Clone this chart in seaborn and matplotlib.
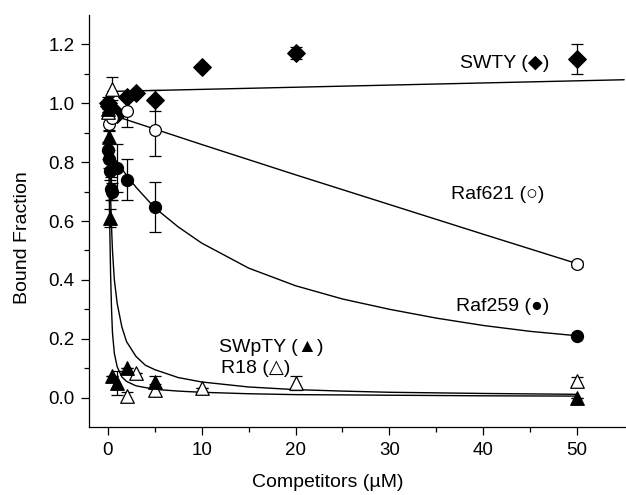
import matplotlib
matplotlib.use("Agg")
import matplotlib.pyplot as plt
import seaborn as sns
from matplotlib.ticker import FixedLocator, FormatStrFormatter

# ---------------- data ----------------
swty_x = [0, 0.1, 0.5, 1, 2, 3, 5, 10, 20, 50]
swty_y = [1.0, 0.99, 0.98, 0.965, 1.02, 1.035, 1.01, 1.125, 1.17, 1.15]
swty_err = [0.01, 0.0, 0.0, 0.0, 0.0, 0.0, 0.035, 0.0, 0.02, 0.05]

raf621_x = [0, 0.1, 0.5, 2, 5, 50]
raf621_y = [1.0, 0.93, 0.95, 0.975, 0.91, 0.455]
raf621_err = [0.02, 0.02, 0.0, 0.055, 0.09, 0.01]

raf259_x = [0, 0.05, 0.1, 0.2, 0.3, 0.5, 1, 2, 5, 50]
raf259_y = [1.0, 0.84, 0.81, 0.77, 0.71, 0.70, 0.78, 0.74, 0.647, 0.21]
raf259_err = [0.0, 0.03, 0.03, 0.03, 0.04, 0.03, 0.08, 0.07, 0.085, 0.0]

swpty_x = [0, 0.1, 0.2, 0.5, 1, 2, 5, 50]
swpty_y = [0.98, 0.885, 0.61, 0.075, 0.05, 0.10, 0.054, 0.0]
swpty_err = [0.02, 0.02, 0.03, 0.0, 0.04, 0.0, 0.02, 0.0]

r18_x = [0, 0.5, 2, 3, 5, 10, 20, 50]
r18_y = [0.97, 1.05, 0.005, 0.085, 0.027, 0.033, 0.05, 0.055]
r18_err = [0.0, 0.04, 0.015, 0.0, 0.02, 0.0, 0.025, 0.015]

# fitted curves
swty_fit_x = [0, 55]
swty_fit_y = [1.04, 1.08]
raf621_fit_x = [0, 10, 20, 30, 40, 50]
raf621_fit_y = [0.965, 0.86, 0.757, 0.656, 0.555, 0.455]
raf259_fit_x = [0, 0.5, 1, 2, 3, 5, 7.5, 10, 15, 20, 25, 30, 35, 40, 45, 50]
raf259_fit_y = [0.84, 0.82, 0.80, 0.755, 0.715, 0.645, 0.58, 0.525, 0.44, 0.38,
                0.335, 0.30, 0.27, 0.245, 0.225, 0.21]
swpty_fit_x = [0, 0.05, 0.1, 0.15, 0.2, 0.3, 0.4, 0.5, 0.7, 1, 1.5, 2, 3, 5,
               7.5, 10, 15, 20, 30, 40, 50]
swpty_fit_y = [1.0, 0.92, 0.80, 0.70, 0.60, 0.42, 0.30, 0.22, 0.15, 0.105, 0.07,
               0.055, 0.04, 0.028, 0.022, 0.018, 0.013, 0.01, 0.008, 0.006, 0.005]
r18_fit_x = [0, 0.1, 0.2, 0.3, 0.4, 0.5, 0.7, 1, 1.5, 2, 3, 4, 5, 7.5, 10, 15,
             20, 25, 30, 40, 50]
r18_fit_y = [1.0, 0.90, 0.80, 0.68, 0.58, 0.50, 0.40, 0.32, 0.24, 0.19, 0.14,
             0.11, 0.095, 0.068, 0.053, 0.036, 0.027, 0.022, 0.018, 0.014, 0.011]

x_ticks = [0, 10, 20, 30, 40, 50]
x_minor = [5, 15, 25, 35, 45]
y_ticks = [0.0, 0.2, 0.4, 0.6, 0.8, 1.0, 1.2]
y_minor = [0.1, 0.3, 0.5, 0.7, 0.9, 1.1]

# ---------------- style ----------------
sns.set_theme(style="ticks")
plt.rcParams["font.family"] = ["Liberation Sans", "DejaVu Sans"]
plt.rcParams["axes.linewidth"] = 0.9
for k in ["xtick.major.width", "ytick.major.width",
          "xtick.minor.width", "ytick.minor.width"]:
    plt.rcParams[k] = 0.9
plt.rcParams["xtick.major.size"] = 5.5
plt.rcParams["ytick.major.size"] = 5.5
plt.rcParams["xtick.minor.size"] = 3.5
plt.rcParams["ytick.minor.size"] = 3.5
for k in ["xtick.color", "ytick.color", "axes.edgecolor", "text.color",
          "axes.labelcolor", "xtick.labelcolor", "ytick.labelcolor"]:
    plt.rcParams[k] = "black"

fig = plt.figure(figsize=(6.26, 4.95), dpi=100)
ax = fig.add_axes([89 / 626, 1 - 427 / 495, 1 - 89 / 626, (427 - 15) / 495])

# curves
for fx, fy in [(swty_fit_x, swty_fit_y), (raf621_fit_x, raf621_fit_y),
               (raf259_fit_x, raf259_fit_y), (swpty_fit_x, swpty_fit_y),
               (r18_fit_x, r18_fit_y)]:
    sns.lineplot(x=fx, y=fy, ax=ax, color="black", linewidth=1.0,
                 sort=False, estimator=None, zorder=2)

# error bars
for x, y, e in [(swty_x, swty_y, swty_err), (raf621_x, raf621_y, raf621_err),
                (raf259_x, raf259_y, raf259_err), (swpty_x, swpty_y, swpty_err),
                (r18_x, r18_y, r18_err)]:
    ax.errorbar(x, y, yerr=e, fmt="none", ecolor="black", elinewidth=0.9,
                capsize=4.3, capthick=0.9, zorder=3)

# markers
specs = [
    (swty_x, swty_y, "D", "black", 80),
    (raf621_x, raf621_y, "o", "white", 72),
    (raf259_x, raf259_y, "o", "black", 75),
    (r18_x, r18_y, "^", "white", 95),
    (swpty_x, swpty_y, "^", "black", 95),
]
for x, y, m, fc, s in specs:
    sns.scatterplot(x=x, y=y, ax=ax, marker=m, s=s, facecolor=fc,
                    edgecolor="black", linewidth=0.9, zorder=4)

ax.set_xlim(-2.0, 55.2)
ax.set_ylim(-0.1, 1.3)
ax.xaxis.set_major_locator(FixedLocator(x_ticks))
ax.xaxis.set_minor_locator(FixedLocator(x_minor))
ax.yaxis.set_major_locator(FixedLocator(y_ticks))
ax.yaxis.set_minor_locator(FixedLocator(y_minor))
ax.yaxis.set_major_formatter(FormatStrFormatter("%.1f"))
ax.tick_params(axis="both", which="both", direction="out", labelsize=13.5,
               pad=5, colors="black")
sns.despine(ax=ax)

ax.set_xlabel("Competitors (\u00b5M)", fontsize=14, color="black")
ax.set_ylabel("Bound Fraction", fontsize=14, color="black")
ax.xaxis.set_label_coords(0.445, -0.115)
ax.yaxis.set_label_coords(-0.108, 0.46)

fs = 14
ax.text(47.0, 1.136, "SWTY (\u25c6)", fontsize=fs, ha="right", va="center", color="black")
ax.text(41.5, 0.69, "Raf621 (\u25cb)", fontsize=fs, ha="center", va="center", color="black")
ax.text(42.1, 0.308, "Raf259 (\u25cf)", fontsize=fs, ha="center", va="center", color="black")
ax.text(11.9, 0.17, "SWpTY (\u25b2)", fontsize=fs, ha="left", va="center", color="black")
ax.text(12.1, 0.10, "R18 (\u25b3)", fontsize=fs, ha="left", va="center", color="black")

fig.savefig("out.png", dpi=100)
